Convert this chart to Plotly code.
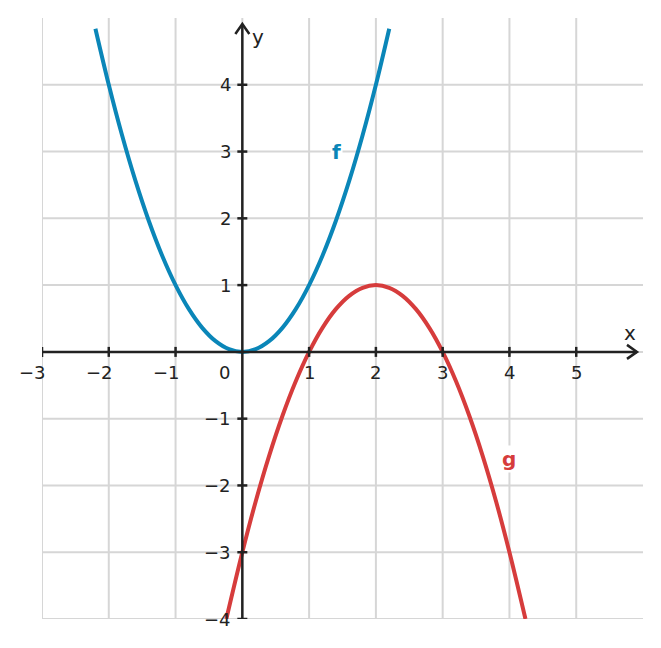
import plotly.graph_objects as go

# Curve f
f_x = [-2.2, -2.0, -1.8, -1.6, -1.4, -1.2, -1.0, -0.8, -0.6, -0.4, -0.2, 0.0,
       0.2, 0.4, 0.6, 0.8, 1.0, 1.2, 1.4, 1.6, 1.8, 2.0, 2.2]
f_y = [4.84, 4.0, 3.24, 2.56, 1.96, 1.44, 1.0, 0.64, 0.36, 0.16, 0.04, 0.0,
       0.04, 0.16, 0.36, 0.64, 1.0, 1.44, 1.96, 2.56, 3.24, 4.0, 4.84]

# Curve g
g_x = [-0.24, 0.0, 0.2, 0.4, 0.6, 0.8, 1.0, 1.2, 1.4, 1.6, 1.8, 2.0,
       2.2, 2.4, 2.6, 2.8, 3.0, 3.2, 3.4, 3.6, 3.8, 4.0, 4.24]
g_y = [-4.0, -3.0, -2.24, -1.56, -0.96, -0.44, 0.0, 0.36, 0.64, 0.84, 0.96, 1.0,
       0.96, 0.84, 0.64, 0.36, 0.0, -0.44, -0.96, -1.56, -2.24, -3.0, -4.0]

x_ticks = [-3, -2, -1, 1, 2, 3, 4, 5]
y_ticks = [-4, -3, -2, -1, 1, 2, 3, 4]
x_grid = [-3, -2, -1, 0, 1, 2, 3, 4, 5]
y_grid = [-4, -3, -2, -1, 0, 1, 2, 3, 4]

BLUE = "#0a86b8"
RED = "#d63c3c"
AX = "#222222"
GRID = "#d6d6d6"
FONT = "DejaVu Sans"

fig = go.Figure()
fig.add_trace(go.Scatter(x=f_x, y=f_y, mode="lines", line=dict(color=BLUE, width=4, shape="spline"),
                         hoverinfo="skip", showlegend=False))
fig.add_trace(go.Scatter(x=g_x, y=g_y, mode="lines", line=dict(color=RED, width=4, shape="spline"),
                         hoverinfo="skip", showlegend=False))

u = 1 / 66.8  # data units per pixel
shapes = []
# grid lines
for t in x_grid:
    shapes.append(dict(type="line", xref="x", yref="y", x0=t, y0=-4, x1=t, y1=5,
                       line=dict(color=GRID, width=2), layer="below"))
for t in y_grid:
    shapes.append(dict(type="line", xref="x", yref="y", x0=-3, y0=t, x1=6, y1=t,
                       line=dict(color=GRID, width=2), layer="below"))
# axes
shapes.append(dict(type="line", xref="x", yref="y", x0=-3, y0=0, x1=5.91, y1=0,
                   line=dict(color=AX, width=2.5), layer="above"))
shapes.append(dict(type="line", xref="x", yref="y", x0=0, y0=-4, x1=0, y1=4.91,
                   line=dict(color=AX, width=2.5), layer="above"))
# arrowheads
shapes.append(dict(type="path", xref="x", yref="y",
                   path=f"M {5.91-10*u} {7*u} L 5.91 0 L {5.91-10*u} {-7*u}",
                   line=dict(color=AX, width=2.5), layer="above"))
shapes.append(dict(type="path", xref="x", yref="y",
                   path=f"M {-7*u} {4.91-10*u} L 0 4.91 L {7*u} {4.91-10*u}",
                   line=dict(color=AX, width=2.5), layer="above"))
# tick marks
for t in x_ticks:
    shapes.append(dict(type="line", xref="x", yref="y", x0=t, y0=-5*u, x1=t, y1=5*u,
                       line=dict(color=AX, width=2.5), layer="above"))
for t in y_ticks:
    shapes.append(dict(type="line", xref="x", yref="y", x0=-5*u, y0=t, x1=5*u, y1=t,
                       line=dict(color=AX, width=2.5), layer="above"))

ann = []
for t in x_ticks:
    if t < 0:
        ann.append(dict(x=t, y=0, xref="x", yref="y", text=f"\u2212{abs(t)}", showarrow=False,
                        xanchor="right", yanchor="top", xshift=6, yshift=-8,
                        font=dict(family=FONT, size=18, color=AX)))
    else:
        ann.append(dict(x=t, y=0, xref="x", yref="y", text=str(t), showarrow=False,
                        xanchor="center", yanchor="top", yshift=-8,
                        font=dict(family=FONT, size=18, color=AX)))
ann.append(dict(x=0, y=0, xref="x", yref="y", text="0", showarrow=False,
                xanchor="right", yanchor="top", xshift=-10, yshift=-8,
                font=dict(family=FONT, size=18, color=AX)))
for t in y_ticks:
    txt = f"\u2212{abs(t)}" if t < 0 else str(t)
    ann.append(dict(x=0, y=t, xref="x", yref="y", text=txt, showarrow=False,
                    xanchor="right", yanchor="middle", xshift=-9,
                    font=dict(family=FONT, size=18, color=AX)))
ann.append(dict(x=5.81, y=0.28, xref="x", yref="y", text="x", showarrow=False,
                font=dict(family=FONT, size=20, color=AX)))
ann.append(dict(x=0.23, y=4.72, xref="x", yref="y", text="y", showarrow=False,
                font=dict(family=FONT, size=20, color=AX)))
ann.append(dict(x=1.41, y=3.0, xref="x", yref="y", text="<b>f</b>", showarrow=False,
                bgcolor="white", font=dict(family=FONT, size=20, color=BLUE)))
ann.append(dict(x=3.99, y=-1.6, xref="x", yref="y", text="<b>g</b>", showarrow=False,
                bgcolor="white", font=dict(family=FONT, size=20, color=RED)))

fig.update_layout(
    width=661, height=648,
    margin=dict(l=42, r=18, t=18, b=29),
    plot_bgcolor="white", paper_bgcolor="white",
    xaxis=dict(range=[-3, 6], showticklabels=False, showgrid=False,
               zeroline=False, showline=False, fixedrange=True),
    yaxis=dict(range=[-4, 5], showticklabels=False, showgrid=False,
               zeroline=False, showline=False, fixedrange=True),
    shapes=shapes, annotations=ann, showlegend=False,
)
fig.write_html("out.html")
